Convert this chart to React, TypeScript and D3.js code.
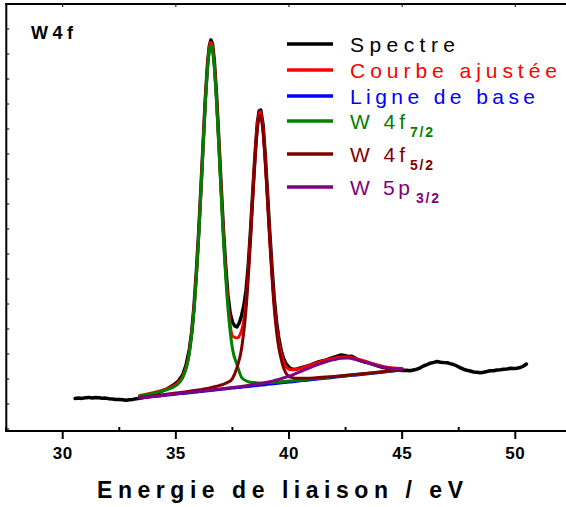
import React from 'react';
import * as d3 from 'd3';

const W = 566;
const H = 507;

// Fitted-curve energy grid (eV) and curves (a.u.)
const energyGrid = [33.4, 34.0, 34.5, 35.0, 35.3, 35.6, 35.8, 36.0, 36.15, 36.3, 36.4, 36.5, 36.55, 36.6, 36.7, 36.8, 36.95, 37.1, 37.3, 37.5, 37.7, 37.9, 38.1, 38.3, 38.45, 38.6, 38.72, 38.85, 39.0, 39.15, 39.3, 39.5, 39.7, 39.9, 40.1, 40.4, 40.8, 41.2, 41.6, 42.0, 42.3, 42.6, 43.0, 43.4, 43.8, 44.2, 44.6, 45.0];
const baselineI = [33.0, 34.4, 35.7, 36.9, 37.6, 38.3, 38.8, 39.3, 39.6, 40.0, 40.2, 40.5, 40.6, 40.7, 41.0, 41.2, 41.6, 41.9, 42.4, 42.9, 43.4, 43.8, 44.3, 44.8, 45.2, 45.5, 45.8, 46.1, 46.5, 46.9, 47.2, 47.7, 48.2, 48.7, 49.1, 49.9, 50.8, 51.8, 52.8, 53.7, 54.4, 55.2, 56.1, 57.1, 58.0, 59.0, 60.0, 61.0];
const w4f72I = [35.1, 37.6, 40.6, 45.4, 53.1, 78.0, 119.8, 190.1, 258.3, 326.7, 362.4, 382.9, 385.6, 383.1, 363.2, 327.9, 260.3, 192.7, 123.4, 82.6, 66.4, 53.8, 50.3, 48.8, 48.4, 48.1, 48.0, 48.1, 48.3, 48.5, 48.7, 49.0, 49.4, 49.8, 50.1, 50.8, 51.6, 52.5, 53.4, 54.2, 54.9, 55.6, 56.5, 57.5, 58.3, 59.3, 60.3, 61.3];
const w4f52I = [33.5, 35.0, 36.5, 37.9, 38.7, 39.7, 40.4, 41.1, 41.6, 42.2, 42.6, 43.1, 43.4, 43.6, 44.2, 44.7, 45.7, 46.7, 48.7, 52.4, 63.4, 81.8, 121.3, 190.6, 252.6, 301.2, 315.8, 299.4, 249.8, 189.5, 136.6, 90.1, 67.6, 56.7, 53.6, 52.7, 52.7, 53.2, 53.9, 54.6, 55.2, 55.9, 56.7, 57.6, 58.5, 59.4, 60.4, 61.3];
const w5p32I = [33.0, 34.5, 35.8, 37.1, 37.8, 38.6, 39.1, 39.6, 39.9, 40.4, 40.6, 40.9, 41.0, 41.1, 41.5, 41.7, 42.1, 42.4, 43.0, 43.5, 44.1, 44.6, 45.3, 46.0, 46.5, 46.9, 47.3, 47.8, 48.5, 49.3, 50.1, 51.3, 52.7, 54.2, 55.7, 58.4, 62.1, 65.8, 69.0, 71.4, 72.7, 72.9, 71.1, 68.6, 65.8, 63.6, 62.3, 62.0];
const fitI = [35.6, 38.3, 41.5, 46.6, 54.4, 79.7, 121.7, 192.2, 260.6, 329.3, 365.2, 385.9, 388.8, 386.4, 366.9, 331.9, 264.9, 198.0, 130.3, 95.0, 93.0, 100.0, 128.3, 195.8, 257.1, 305.2, 319.5, 303.1, 253.6, 193.5, 141.0, 95.0, 73.3, 63.3, 61.2, 62.1, 64.8, 67.9, 70.7, 72.8, 74.0, 74.0, 72.1, 69.5, 66.6, 64.3, 63.0, 62.6];

// Measured spectrum
const spectrumE = [30.55, 30.7, 30.85, 31.0, 31.15, 31.3, 31.45, 31.6, 31.75, 31.9, 32.05, 32.2, 32.35, 32.5, 32.65, 32.8, 32.95, 33.1, 33.25, 33.4, 33.6, 33.8, 34.0, 34.3, 34.6, 34.9, 35.1, 35.3, 35.45, 35.6, 35.7, 35.8, 35.9, 36.0, 36.1, 36.2, 36.3, 36.4, 36.48, 36.55, 36.62, 36.7, 36.8, 36.9, 37.0, 37.1, 37.2, 37.3, 37.4, 37.5, 37.6, 37.7, 37.8, 37.9, 38.0, 38.1, 38.2, 38.3, 38.4, 38.5, 38.6, 38.68, 38.75, 38.85, 38.95, 39.05, 39.15, 39.25, 39.35, 39.45, 39.55, 39.65, 39.75, 39.85, 39.95, 40.05, 40.2, 40.35, 40.5, 40.7, 40.9, 41.1, 41.3, 41.5, 41.7, 41.9, 42.1, 42.3, 42.45, 42.6, 42.75, 42.9, 43.05, 43.2, 43.35, 43.5, 43.65, 43.8, 43.95, 44.1, 44.25, 44.4, 44.55, 44.7, 44.85, 45.0, 45.2, 45.35, 45.5, 45.65, 45.8, 45.94, 46.1, 46.24, 46.4, 46.54, 46.7, 46.83, 47.0, 47.12, 47.27, 47.42, 47.56, 47.71, 47.86, 48.01, 48.16, 48.31, 48.45, 48.6, 48.75, 48.89, 49.04, 49.19, 49.34, 49.48, 49.63, 49.78, 49.93, 50.07, 50.22, 50.37, 50.49];
const spectrumI = [32.5, 33.0, 32.6, 33.2, 33.6, 33.0, 33.5, 33.2, 32.8, 32.9, 32.3, 32.0, 31.6, 31.5, 31.2, 30.8, 31.3, 31.6, 32.2, 32.8, 33.6, 35.0, 37.0, 39.0, 42.0, 46.0, 49.5, 56.0, 66, 82, 99, 124, 157, 195, 239, 285, 331, 367, 385, 391, 387, 370, 335, 291, 246, 202, 166, 136, 118, 109, 105, 104, 108, 115, 125, 140, 166, 201, 240, 277, 308, 320, 321, 307, 276, 238, 199, 163, 132, 109, 93, 81, 73, 68, 65, 62.5, 61.5, 62, 63, 64.2, 65.5, 67.3, 69, 70.2, 71.6, 73.2, 74.6, 76, 75.6, 74.6, 74.8, 73.4, 71.2, 70.2, 68.9, 68.3, 67.1, 66.2, 65, 63.8, 63.2, 62.2, 61.5, 61.3, 60.7, 60.4, 60.8, 60.2, 61.0, 61.8, 63.2, 65, 66.3, 67.8, 68.6, 69.5, 68.8, 68.5, 68.2, 67.4, 66.5, 65, 63.4, 61.8, 60.8, 60, 59, 58.7, 58.2, 58.8, 59.5, 60.3, 60.2, 61, 61.3, 61.8, 62.0, 62.7, 62.4, 62.8, 63.5, 65, 67];

const xMajorTicks = [30, 35, 40, 45, 50];
const xMinorTicks = [27.5, 32.5, 37.5, 42.5, 47.5];
const xTickLabels = ['30', '35', '40', '45', '50'];

const legendLabels = ['Spectre', 'Courbe ajustée', 'Ligne de base', 'W 4f', 'W 4f', 'W 5p'];
const legendSubs = ['', '', '', '7/2', '5/2', '3/2'];
const legendColors = ['#000000', '#ff0000', '#0000ff', '#008000', '#800000', '#800080'];

const FONT = "'Liberation Sans', Arial, sans-serif";

export default function App() {
  const x = d3.scaleLinear().domain([30, 50]).range([62.7, 515.3]);
  const y = d3.scaleLinear().domain([0, 427]).range([431, 4]);

  const smooth = (xs: number[], ys: number[]) =>
    d3
      .line<number>()
      .x((_, i) => x(xs[i]))
      .y((d) => y(d))
      .curve(d3.curveMonotoneX)(ys) || '';
  const raw = (xs: number[], ys: number[]) =>
    d3
      .line<number>()
      .x((_, i) => x(xs[i]))
      .y((d) => y(d))
      .curve(d3.curveLinear)(ys) || '';

  const left = 6.3;
  const top = 4;
  const bottom = 431;
  const right = W + 10;

  const curves = [
    { d: raw(spectrumE, spectrumI), c: legendColors[0], w: 3.5 },
    { d: smooth(energyGrid, fitI), c: legendColors[1], w: 3 },
    { d: smooth(energyGrid, baselineI), c: legendColors[2], w: 3 },
    { d: smooth(energyGrid, w4f72I), c: legendColors[3], w: 3 },
    { d: smooth(energyGrid, w4f52I), c: legendColors[4], w: 3 },
    { d: smooth(energyGrid, w5p32I), c: legendColors[5], w: 3 },
  ];

  const legendRowY = [44, 70, 96, 121, 154, 187];
  const legendTextLen = [105, 207, 185, 55, 55, 60];
  const subX = [0, 0, 0, 410, 410, 416];

  const yTicks = d3.range(2, 427, 25);

  return (
    <svg
      width={W}
      height={H}
      viewBox={`0 0 ${W} ${H}`}
      style={{ position: 'absolute', left: 0, top: 0, background: '#fff' }}
    >
      <rect x={0} y={0} width={W} height={H} fill="#fff" />
      <defs>
        <clipPath id="plotclip">
          <rect x={left} y={top} width={right - left} height={bottom - top} />
        </clipPath>
      </defs>

      <g clipPath="url(#plotclip)">
        {curves.map((cv, i) => (
          <path key={i} d={cv.d} fill="none" stroke={cv.c} strokeWidth={cv.w} strokeLinejoin="round" strokeLinecap="round" />
        ))}
      </g>

      {/* frame */}
      <line x1={left} x2={left} y1={top - 1} y2={bottom + 1} stroke="#000" strokeWidth={2} />
      <line x1={left - 1} x2={right} y1={top} y2={top} stroke="#000" strokeWidth={2} />
      <line x1={left - 1} x2={right} y1={bottom} y2={bottom} stroke="#000" strokeWidth={2} />

      {/* left ticks */}
      {yTicks.map((t) => (
        <line key={'yt' + t} x1={left} x2={left + 3} y1={y(t)} y2={y(t)} stroke="#000" strokeWidth={1} />
      ))}

      {/* bottom ticks */}
      {xMajorTicks.map((t) => (
        <line key={'xM' + t} x1={x(t)} x2={x(t)} y1={bottom} y2={bottom + 8} stroke="#000" strokeWidth={2} />
      ))}
      {xMinorTicks.map((t) => (
        <line key={'xm' + t} x1={x(t)} x2={x(t)} y1={bottom - 4} y2={bottom} stroke="#000" strokeWidth={2} />
      ))}
      {/* top ticks */}
      {xMajorTicks.map((t) => (
        <line key={'xT' + t} x1={x(t)} x2={x(t)} y1={top} y2={top + 3} stroke="#000" strokeWidth={1} />
      ))}

      {xMajorTicks.map((t, i) => (
        <text
          key={'xl' + t}
          x={x(t)}
          y={459}
          textAnchor="middle"
          fontFamily={FONT}
          fontWeight="bold"
          fontSize={17}
          letterSpacing={0.5}
        >
          {xTickLabels[i]}
        </text>
      ))}

      <text
        x={97}
        y={498}
        fontFamily={FONT}
        fontWeight="bold"
        fontSize={23}
        textLength={366}
        lengthAdjust="spacing"
      >
        Energie de liaison / eV
      </text>

      <text x={31} y={39} fontFamily={FONT} fontWeight="bold" fontSize={18} textLength={42} lengthAdjust="spacing">
        W 4 f
      </text>

      {/* legend */}
      {legendLabels.map((lab, i) => (
        <g key={'lg' + i}>
          <line x1={287} x2={333} y1={legendRowY[i]} y2={legendRowY[i]} stroke={legendColors[i]} strokeWidth={3.5} />
          <text
            x={350}
            y={legendRowY[i] + 7.8}
            fill={legendColors[i]}
            fontFamily={FONT}
            fontSize={21}
            textLength={legendTextLen[i]}
            lengthAdjust="spacing"
          >
            {lab}
          </text>
          {legendSubs[i] && (
            <text
              x={subX[i]}
              y={legendRowY[i] + 16}
              fill={legendColors[i]}
              fontFamily={FONT}
              fontWeight="bold"
              fontSize={14}
              textLength={23}
              lengthAdjust="spacing"
            >
              {legendSubs[i]}
            </text>
          )}
        </g>
      ))}
    </svg>
  );
}
